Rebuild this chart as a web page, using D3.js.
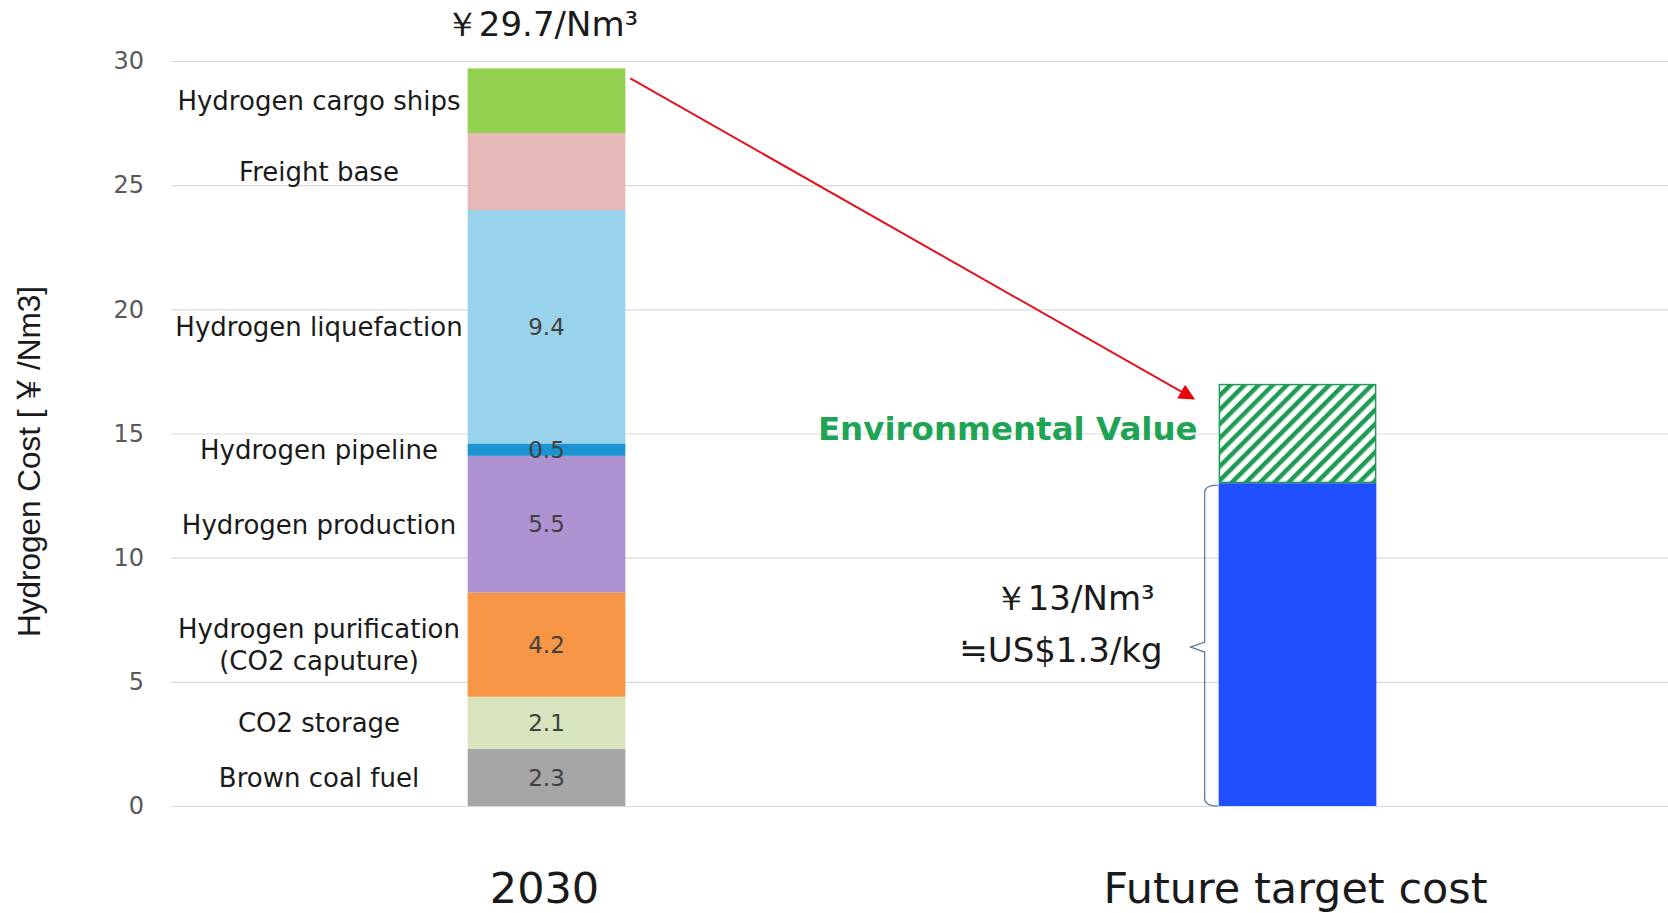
<!DOCTYPE html>
<html><head><meta charset="utf-8">
<script src="https://cdn.jsdelivr.net/npm/d3@7"></script>
<style>
html,body{margin:0;padding:0;background:#fff;}
svg{display:block;}
</style></head>
<body>
<svg id="chart" width="1668" height="913"></svg>
<script>
// ---- data ----
const categories = ["2030", "Future target cost"];
const segmentNames2030 = ["Brown coal fuel", "CO2 storage", "Hydrogen purification|(CO2 caputure)", "Hydrogen production", "Hydrogen pipeline", "Hydrogen liquefaction", "Freight base", "Hydrogen cargo ships"];
const segmentValues2030 = [2.3, 2.1, 4.2, 5.5, 0.5, 9.4, 3.1, 2.6];
const segmentShowValue2030 = [true, true, true, true, true, true, false, false];
const segmentColors2030 = ["#a6a6a6", "#d7e4bd", "#f79646", "#ae93d3", "#1d94d2", "#98d3eb", "#e6b9b8", "#92d050"];
const futureNames = ["Target cost", "Environmental Value"];
const futureValues = [13, 4];
const yTicks = [0, 5, 10, 15, 20, 25, 30];
const totalLabel2030 = "￥29.7/Nm³";
const futureLabelLines = ["￥13/Nm³", "≒US$1.3/kg"];
const yTitleParts = ["Hydrogen Cost [", "￥", "/Nm3]"];

// ---- layout ----
const svg = d3.select("#chart");
const plotLeft = 171, plotRight = 1673, yTop = 61, yBottom = 806;
const y = d3.scaleLinear().domain([0, 30]).range([yBottom, yTop]);
const x = d3.scaleBand().domain(categories).range([plotLeft, plotRight]).paddingInner(0.79).paddingOuter(0.395);
const labelFont = "'DejaVu Sans', Verdana, sans-serif";

// defs: hatch + arrow
const defs = svg.append("defs");
const pat = defs.append("pattern").attr("id", "hatch").attr("patternUnits", "userSpaceOnUse")
  .attr("width", 10).attr("height", 10).attr("patternTransform", "rotate(45)");
pat.append("rect").attr("width", 10).attr("height", 10).attr("fill", "#ffffff");
pat.append("rect").attr("width", 4.5).attr("height", 10).attr("fill", "#1e9c55");
defs.append("marker").attr("id", "arrowhead").attr("viewBox", "0 0 10 10").attr("refX", 9).attr("refY", 5)
  .attr("markerWidth", 16).attr("markerHeight", 16).attr("markerUnits", "userSpaceOnUse").attr("orient", "auto")
  .append("path").attr("d", "M0,0 L10,5 L0,10 Z").attr("fill", "#e8000b");

// gridlines + y axis
const yAxis = d3.axisLeft(y).tickValues(yTicks).tickSize(0).tickPadding(27);
const gAxis = svg.append("g").attr("transform", `translate(${plotLeft},0)`).call(yAxis);
gAxis.select(".domain").remove();
gAxis.selectAll(".tick line").attr("stroke", "#d9d9d9").attr("stroke-width", 1.2)
  .attr("x1", 0).attr("x2", 1668 - plotLeft);
gAxis.selectAll(".tick text").attr("fill", "#595959").attr("font-size", 24)
  .attr("font-family", labelFont);

// y title
const yt = svg.append("text").attr("transform", `translate(40,${(yTop + yBottom) / 2 + 28}) rotate(-90)`)
  .attr("text-anchor", "middle").attr("font-size", 31.5).attr("fill", "#1a1a1a")
  .attr("font-family", "'Liberation Sans', Arial, sans-serif");
yt.append("tspan").text(yTitleParts[0]);
yt.append("tspan").attr("font-family", "'Noto Sans CJK JP', sans-serif").attr("dx", 4).text(yTitleParts[1]);
yt.append("tspan").attr("dx", 4).text(yTitleParts[2]);

// 2030 stacked bar
const ends = d3.cumsum(segmentValues2030);
const segs = segmentValues2030.map((v, i) => ({
  name: segmentNames2030[i], value: v, y0: ends[i] - v, y1: ends[i],
  color: segmentColors2030[i], show: segmentShowValue2030[i]
}));
const bx = x("2030"), bw = x.bandwidth();
svg.append("g").selectAll("rect").data(segs).join("rect")
  .attr("x", bx).attr("width", bw)
  .attr("y", d => y(d.y1)).attr("height", d => y(d.y0) - y(d.y1))
  .attr("fill", d => d.color);

// value labels inside bar
svg.append("g").selectAll("text").data(segs.filter(d => d.show)).join("text")
  .attr("x", bx + bw / 2).attr("y", d => y((d.y0 + d.y1) / 2)).attr("dy", "0.36em")
  .attr("text-anchor", "middle").attr("font-size", 23).attr("fill", "#404040")
  .attr("font-family", labelFont).text(d => d.value.toFixed(1));

// segment name labels
const nameX = 319;
const nameG = svg.append("g").selectAll("text").data(segs).join("text")
  .attr("x", nameX).attr("text-anchor", "middle").attr("font-size", 26).attr("fill", "#1a1a1a")
  .attr("font-family", labelFont)
  .attr("y", d => y((d.y0 + d.y1) / 2));
nameG.each(function (d) {
  const lines = d.name.split("|");
  const t = d3.select(this);
  lines.forEach((ln, k) => {
    t.append("tspan").attr("x", nameX)
      .attr("dy", k === 0 ? `${0.36 - (lines.length - 1) * 0.6}em` : "1.2em").text(ln);
  });
});

// total label
svg.append("text").attr("x", bx + bw / 2 - 5).attr("y", 36)
  .attr("text-anchor", "middle").attr("font-size", 34).attr("fill", "#1a1a1a")
  .attr("font-family", labelFont).text(totalLabel2030);

// future bar
const fEnds = d3.cumsum(futureValues);
const fx = x("Future target cost");
const fsegs = futureValues.map((v, i) => ({ name: futureNames[i], y0: fEnds[i] - v, y1: fEnds[i] }));
svg.append("rect").attr("x", fx).attr("width", bw)
  .attr("y", y(fsegs[0].y1)).attr("height", y(fsegs[0].y0) - y(fsegs[0].y1)).attr("fill", "#1f4fff");
svg.append("rect").attr("x", fx + 0.75).attr("width", bw - 1.5)
  .attr("y", y(fsegs[1].y1) + 0.75).attr("height", y(fsegs[1].y0) - y(fsegs[1].y1) - 1.5)
  .attr("fill", "url(#hatch)").attr("stroke", "#1e9c55").attr("stroke-width", 1.5);

// Environmental Value label
svg.append("text").attr("x", fx - 21).attr("y", y(15) - 5).attr("dy", "0.36em")
  .attr("text-anchor", "end").attr("font-size", 32.5).attr("font-weight", "bold").attr("fill", "#1fa355")
  .attr("font-family", labelFont).text(futureNames[1]);

// bracket
const bTop = y(fsegs[0].y1) + 2, bBot = y(0), bMid = y(6.4), bxr = fx - 1, bxl = fx - 14;
svg.append("path")
  .attr("d", `M${bxr},${bTop} Q${bxl},${bTop} ${bxl},${bTop + 8} L${bxl},${bMid - 5} L${bxl - 14},${bMid} L${bxl},${bMid + 5} L${bxl},${bBot - 8} Q${bxl},${bBot} ${bxr},${bBot}`)
  .attr("fill", "none").attr("stroke", "#5a7aa0").attr("stroke-width", 1.3);

// future labels
svg.append("text").attr("x", fx - 64).attr("y", y(8.4)).attr("dy", "0.36em")
  .attr("text-anchor", "end").attr("font-size", 34).attr("fill", "#1a1a1a")
  .attr("font-family", labelFont).text(futureLabelLines[0]);
svg.append("text").attr("x", fx - 56).attr("y", y(6.3)).attr("dy", "0.36em")
  .attr("text-anchor", "end").attr("font-size", 34).attr("fill", "#1a1a1a")
  .attr("font-family", labelFont).text(futureLabelLines[1]);

// red arrow
svg.append("line").attr("x1", bx + bw + 5).attr("y1", y(29.3)).attr("x2", fx - 25).attr("y2", y(16.4))
  .attr("stroke", "#e0141e").attr("stroke-width", 2).attr("marker-end", "url(#arrowhead)");

// category labels
svg.append("g").selectAll("text").data(categories).join("text")
  .attr("x", d => x(d) + bw / 2 - 2).attr("y", 903)
  .attr("text-anchor", "middle").attr("font-size", 43).attr("fill", "#1a1a1a")
  .attr("font-family", labelFont).text(d => d);
</script>
</body></html>
